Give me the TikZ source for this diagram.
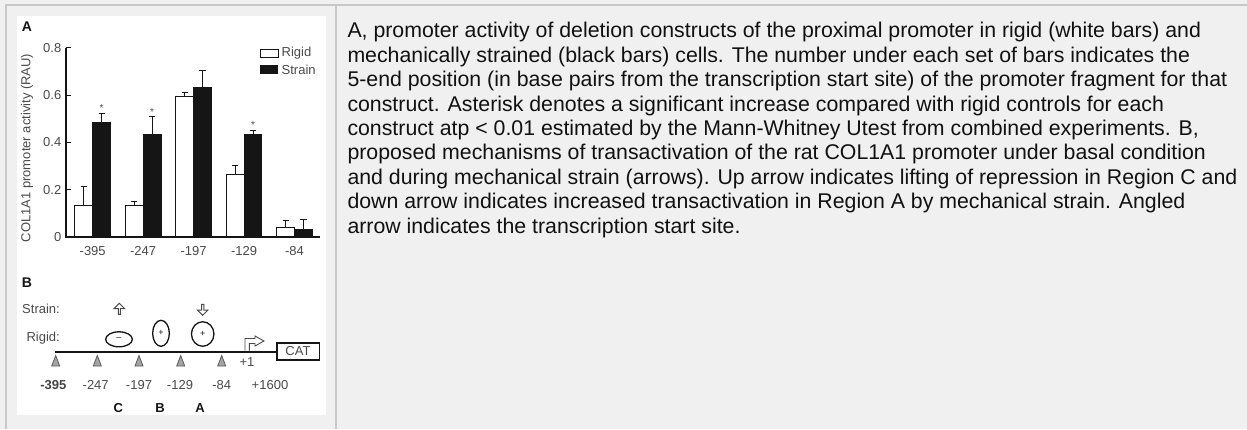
\documentclass[tikz,border=0pt]{standalone}
\usepackage{fontspec}
\setmainfont{Liberation Sans}
\usetikzlibrary{arrows.meta,shapes.geometric,shapes.arrows}
\definecolor{pagebg}{HTML}{F0F0F0}
\definecolor{rulegray}{HTML}{C8C8C8}
\definecolor{ink}{HTML}{151515}
\definecolor{lbl}{HTML}{4A4A4A}
\definecolor{bodytext}{HTML}{111111}

\begin{document}
\begin{tikzpicture}[x=1pt,y=-1pt,
  tablerule/.style={rulegray, line width=2pt},
  para/.style={anchor=base west, inner sep=0pt, text=bodytext, font=\fontsize{21.3}{24.5}\selectfont},
  figlbl/.style={inner sep=0pt, text=lbl, font=\fontsize{13}{13}\selectfont},
  panellbl/.style={inner sep=0pt, text=ink, font=\fontsize{14}{14}\selectfont\bfseries},
  axisline/.style={ink, line width=1.2pt},
  whitebar/.style={draw=ink, line width=1.1pt, fill=white},
  blackbar/.style={draw=ink, line width=1.1pt, fill=ink},
  errbar/.style={ink, line width=0.9pt},
  factor/.style={ellipse, draw=ink, line width=1.3pt, inner sep=0pt, text=ink, font=\fontsize{9}{9}\selectfont},
  sitemark/.style={draw=ink!70, fill=lbl!50, line width=0.8pt},
  blockarrow/.style={single arrow, draw=lbl, line width=1pt, fill=white, inner sep=0pt,
    minimum height=11pt, minimum width=10.5pt, single arrow head extend=2pt, single arrow tip angle=90},
  hollowarrow/.style={draw=lbl, fill=white, line width=0.9pt, line join=miter}
]
\useasboundingbox (0,0) rectangle (1247,429);
\fill[pagebg] (0,0) rectangle (1247,429);

% table cell rules
\draw[tablerule] (5.5,429) -- (5.5,4.5) -- (1247,4.5);
\draw[tablerule] (335.5,4.5) -- (335.5,429);

% white figure area
\fill[white] (17,16) rectangle (326,415);

% ---------- panel A: bar chart ----------
\node[panellbl] (labA) at (27,27) {A};
\draw[axisline] (66,48) -- (66,237) -- (320,237);
\foreach \v/\t in {0/0, 0.2/0.2, 0.4/0.4, 0.6/0.6, 0.8/0.8} {
  \draw[axisline] (66,{237-236.5*\v}) -- (70.5,{237-236.5*\v});
  \node[figlbl, anchor=east] (tick\t) at (61.5,{237-236.5*\v}) {\t};
}
\node[figlbl, rotate=90] (ytitle) at (27,148) {COL1A1 promoter activity (RAU)};

% bars: index / label / rigid / rigid err / strain / strain err / significant
\foreach \i/\lab/\w/\we/\b/\be/\st in {
  0/-395/0.135/0.213/0.483/0.523/1,
  1/-247/0.135/0.152/0.435/0.509/1,
  2/-197/0.593/0.613/0.631/0.703/0,
  3/-129/0.265/0.304/0.435/0.452/1,
  4/-84/0.041/0.068/0.033/0.076/0} {
  \pgfmathsetmacro\c{92.7+50.45*\i}
  \pgfmathsetmacro\wy{237-236.5*\w}
  \pgfmathsetmacro\wey{237-236.5*\we}
  \pgfmathsetmacro\by{237-236.5*\b}
  \pgfmathsetmacro\bey{237-236.5*\be}
  \draw[errbar] ({\c-8.9},\wy) -- ({\c-8.9},\wey) ({\c-12},\wey) -- ({\c-5.8},\wey);
  \draw[errbar] ({\c+8.9},\by) -- ({\c+8.9},\bey) ({\c+5.8},\bey) -- ({\c+12},\bey);
  \draw[whitebar] ({\c-17.8},237) rectangle (\c,\wy);
  \draw[blackbar] (\c,237) rectangle ({\c+17.8},\by);
  \node[figlbl] (xl\i) at (\c,251) {\lab};
  \ifnum\st=1
    \node[figlbl, font=\fontsize{10}{10}\selectfont] (star\i) at ({\c+8.9},{\bey-5}) {*};
  \fi
}

% legend
\draw[whitebar, line width=1pt] (260,49.5) rectangle (278,57.5);
\node[figlbl, anchor=west] (legR) at (281.5,53.5) {Rigid};
\fill[ink] (260,65) rectangle (278,74);
\node[figlbl, anchor=west] (legS) at (281.5,69.5) {Strain};

% ---------- panel B: promoter scheme ----------
\node[panellbl] (labB) at (27,283) {B};
\node[figlbl, anchor=east] (strainlbl) at (60,309.3) {Strain:};
\node[figlbl, anchor=east] (rigidlbl) at (60,338.3) {Rigid:};

\node[draw=ink, line width=1.6pt, minimum width=42.6pt, minimum height=17.3pt, inner sep=0pt,
      text=lbl, font=\fontsize{13}{13}\selectfont] (cat) at (298,351.5) {CAT};
\coordinate (dnaStart) at (55,351.7);
\draw[ink, line width=2.2pt] (dnaStart) -- (dnaStart -| cat.west);

\foreach \x in {55.7,97.3,139,180.7,221.7}
  \draw[sitemark] (\x,355.5) -- ({\x+4},366) -- ({\x-4},366) -- cycle;

\node[figlbl, font=\fontsize{13}{13}\selectfont\bfseries, text=ink!80] (p395) at (53.3,385) {-395};
\node[figlbl] (p247) at (95.7,385) {-247};
\node[figlbl] (p197) at (139,385) {-197};
\node[figlbl] (p129) at (180,385) {-129};
\node[figlbl] (p84) at (221.7,385) {-84};
\node[figlbl] (p1600) at (270,385) {+1600};
\node[figlbl] (plus1) at (247,362) {+1};

\node[panellbl, font=\fontsize{13}{13}\selectfont\bfseries] (regC) at (118.3,407.7) {C};
\node[panellbl, font=\fontsize{13}{13}\selectfont\bfseries] (regB) at (160,407.7) {B};
\node[panellbl, font=\fontsize{13}{13}\selectfont\bfseries] (regA) at (200,407.7) {A};

\node[factor, minimum width=26.7pt, minimum height=15pt] (repC) at (119,339.3) {--};
\node[factor, minimum width=16.7pt, minimum height=26pt] (actB) at (161,333.3) {+};
\node[factor, minimum width=22.5pt, minimum height=24.5pt] (actA) at (202.7,334) {+};

\node[blockarrow, shape border rotate=90] (upArr) at (119.3,309.3) {};
\node[blockarrow, shape border rotate=270] (downArr) at (202.7,309.3) {};

% transcription start site: hollow bent arrow standing on the DNA line
\draw[hollowarrow] (245,350.5) -- (245,338.5) -- (255,338.5) -- (255,336) -- (264,341)
  -- (255,346) -- (255,343.5) -- (249.3,343.5) -- (249.3,350.5);

% ---------- legend text ----------
\foreach \k/\line in {
  0/{A, promoter activity of deletion constructs of the proximal promoter in rigid (white bars) and},
  1/{mechanically strained (black bars) cells. The number under each set of bars indicates the},
  2/{5-end position (in base pairs from the transcription start site) of the promoter fragment for that},
  3/{construct. Asterisk denotes a significant increase compared with rigid controls for each},
  4/{construct atp < 0.01 estimated by the Mann-Whitney Utest from combined experiments. B,},
  5/{proposed mechanisms of transactivation of the rat COL1A1 promoter under basal condition},
  6/{and during mechanical strain (arrows). Up arrow indicates lifting of repression in Region C and},
  7/{down arrow indicates increased transactivation in Region A by mechanical strain. Angled},
  8/{arrow indicates the transcription start site.}} {
  \node[para] (line\k) at (347.3,{37.7+24.45*\k}) {\line};
}
\end{tikzpicture}
\end{document}
